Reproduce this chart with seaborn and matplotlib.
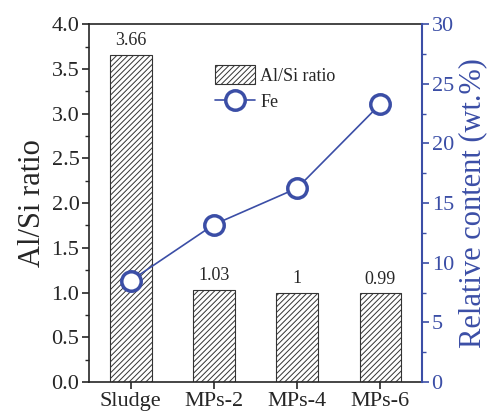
import matplotlib
matplotlib.use("Agg")
import matplotlib.pyplot as plt
import seaborn as sns
import pandas as pd
from matplotlib.ticker import MultipleLocator
from matplotlib.patches import Patch
from matplotlib.lines import Line2D

# data
samples = ["Sludge", "MPs-2", "MPs-4", "MPs-6"]
al_si = [3.66, 1.03, 1.00, 0.99]
al_si_labels = ["3.66", "1.03", "1", "0.99"]
fe = [8.5, 13.2, 16.25, 23.3]

blue = "#3b4ea6"

sns.set_style("ticks")
plt.rcParams["font.family"] = ["Liberation Serif", "DejaVu Serif"]
plt.rcParams["hatch.linewidth"] = 0.7

df = pd.DataFrame({"sample": samples, "ratio": al_si, "fe": fe})

fig = plt.figure(figsize=(4.9, 4.17), dpi=100)
ax = fig.add_axes([0.182, 0.084, 0.679, 0.858])

sns.barplot(data=df, x="sample", y="ratio", ax=ax, color="white",
            edgecolor="#333333", linewidth=0.8, width=0.5, hatch="//////")
for p, lab in zip(ax.patches, al_si_labels):
    ax.text(p.get_x() + p.get_width() / 2, p.get_height() + 0.06, lab,
            ha="center", va="bottom", fontsize=13)

ax.set_xlim(-0.5, 3.5)
ax.set_ylim(0, 4.0)
ax.yaxis.set_major_locator(MultipleLocator(0.5))
ax.yaxis.set_minor_locator(MultipleLocator(0.25))
ax.set_xlabel("")
ax.set_ylabel("Al/Si ratio", fontsize=22, labelpad=3)
ax.tick_params(axis="both", which="major", labelsize=16, length=5, width=1.2,
               direction="out", pad=2)
ax.tick_params(axis="y", which="minor", length=3, width=1.0, direction="out")
for s in ["left", "bottom", "top"]:
    ax.spines[s].set_linewidth(1.2)
ax.spines["top"].set_visible(True)
ax.spines["right"].set_visible(False)

ax2 = ax.twinx()
sns.lineplot(x=samples, y=fe, ax=ax2, sort=False, color=blue, linewidth=1.2,
             marker="o", markersize=14, markerfacecolor="white",
             markeredgecolor=blue, markeredgewidth=2.5)
ax2.set_ylim(0, 30)
ax2.yaxis.set_major_locator(MultipleLocator(5))
ax2.yaxis.set_minor_locator(MultipleLocator(2.5))
ax2.set_ylabel("Relative content (wt.%)", fontsize=22, color=blue, labelpad=3)
ax2.tick_params(axis="y", which="major", labelsize=16, length=5, width=1.2,
                colors=blue, direction="out", pad=2)
ax2.tick_params(axis="y", which="minor", length=3, width=1.0, colors=blue, direction="out")
ax2.spines["right"].set_color(blue)
ax2.spines["right"].set_linewidth(1.5)
ax2.spines["right"].set_visible(True)
ax2.spines["left"].set_visible(False)
ax2.spines["top"].set_visible(False)
ax2.spines["bottom"].set_visible(False)

handles = [Patch(facecolor="white", edgecolor="#333333", hatch="//////", linewidth=0.8),
           Line2D([0], [0], color=blue, linewidth=1.2, marker="o", markersize=14,
                  markerfacecolor="white", markeredgecolor=blue, markeredgewidth=2.5)]
ax2.legend(handles, ["Al/Si ratio", "Fe"], loc="upper left",
           bbox_to_anchor=(0.33, 0.93), frameon=False, fontsize=13,
           handlelength=2.2, handleheight=1.2, labelspacing=0.4, handletextpad=0.3)

fig.savefig("out.png", dpi=100)
